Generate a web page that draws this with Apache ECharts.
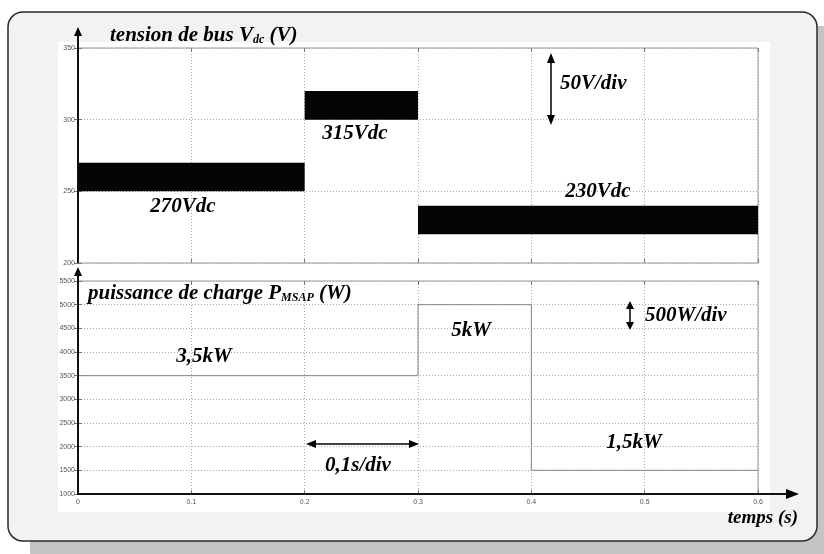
<!DOCTYPE html>
<html><head><meta charset="utf-8">
<script src="https://cdn.jsdelivr.net/npm/echarts@6/dist/echarts.min.js"></script>
<style>html,body{margin:0;padding:0;background:#fff}#c{width:824px;height:554px}</style>
</head><body><div id="c"></div>
<script>
// ---- data ----
const timeTicks = [0, 0.1, 0.2, 0.3, 0.4, 0.5, 0.6];
const vdcTicks = [200, 250, 300, 350];
const powerTicks = [1000, 1500, 2000, 2500, 3000, 3500, 4000, 4500, 5000, 5500];
// Vdc ripple band segments (start time, end time, min, max)
const vdcSegStart = [0, 0.2, 0.3];
const vdcSegEnd = [0.2, 0.3, 0.6];
const vdcMin = [250, 300, 220];
const vdcMax = [270, 320, 240];
// Load power (step)
const powerTime = [0, 0.3, 0.4, 0.6];
const powerValue = [3500, 5000, 1500, 1500];

const chart = echarts.init(document.getElementById('c'), null, {renderer: 'canvas'});
const serif = '"Liberation Serif", "DejaVu Serif", serif';
const sans = '"Liberation Sans", Arial, sans-serif';
const W = 'bold';
const G1 = {left: 78, top: 48, width: 680, height: 215};
const G2 = {left: 78, top: 281, width: 680, height: 213};

function xAx(grid, pos, labels) {
  return {
    type: 'value', gridIndex: grid, position: pos, min: timeTicks[0], max: timeTicks[timeTicks.length - 1], interval: 0.1,
    axisLine: {show: false},
    axisTick: {show: true, inside: true, length: 4, lineStyle: {color: '#777', width: 1}},
    axisLabel: {show: labels, fontSize: 7, color: '#555', fontFamily: sans, margin: 5,
      formatter: v => String(Math.round(v * 10) / 10)},
    splitLine: {show: pos === 'bottom', lineStyle: {type: [1, 2], color: '#aaa', width: 1}}
  };
}
function yAx(grid, pos, ticks, labels) {
  return {
    type: 'value', gridIndex: grid, position: pos, min: ticks[0], max: ticks[ticks.length - 1], interval: ticks[1] - ticks[0],
    axisLine: {show: false},
    axisTick: {show: true, inside: true, length: 4, lineStyle: {color: '#777', width: 1}},
    axisLabel: {show: labels, fontSize: 7, color: '#555', fontFamily: sans, margin: 3, formatter: v => String(v)},
    splitLine: {show: pos === 'left', lineStyle: {type: [1, 2], color: '#aaa', width: 1}}
  };
}

function dblArrowV(x, y1, y2, hw, hl) {
  return [
    {type: 'line', shape: {x1: x, y1: y1 + hl - 1, x2: x, y2: y2 - hl + 1}, style: {stroke: '#000', lineWidth: 1.5}, z: 100},
    {type: 'polygon', shape: {points: [[x, y1], [x - hw, y1 + hl], [x + hw, y1 + hl]]}, style: {fill: '#000'}, z: 100},
    {type: 'polygon', shape: {points: [[x, y2], [x - hw, y2 - hl], [x + hw, y2 - hl]]}, style: {fill: '#000'}, z: 100}
  ];
}
function dblArrowH(y, x1, x2, hw, hl) {
  return [
    {type: 'line', shape: {x1: x1 + hl - 1, y1: y, x2: x2 - hl + 1, y2: y}, style: {stroke: '#000', lineWidth: 1.5}, z: 100},
    {type: 'polygon', shape: {points: [[x1, y], [x1 + hl, y - hw], [x1 + hl, y + hw]]}, style: {fill: '#000'}, z: 100},
    {type: 'polygon', shape: {points: [[x2, y], [x2 - hl, y - hw], [x2 - hl, y + hw]]}, style: {fill: '#000'}, z: 100}
  ];
}
function txt(x, y, text, align, size) {
  return {type: 'text', x: x, y: y, z: 100,
    style: {text: text, fill: '#000', font: 'italic ' + W + ' ' + (size || 21) + 'px ' + serif, textAlign: align || 'center', textVerticalAlign: 'middle'}};
}
function richTitle(x, y, main, sub, tail) {
  return {type: 'text', x: x, y: y, z: 100,
    style: {
      text: '{a|' + main + '}{s|' + sub + '}{a|' + tail + '}',
      textAlign: 'left', textVerticalAlign: 'middle',
      rich: {
        a: {fontFamily: serif, fontStyle: 'italic', fontWeight: W, fontSize: 21, lineHeight: 26, color: '#000', verticalAlign: 'bottom'},
        s: {fontFamily: serif, fontStyle: 'italic', fontWeight: W, fontSize: 12, lineHeight: 16, color: '#000', verticalAlign: 'bottom'}
      }
    }};
}

const graphics = [
  // shadow, frame and white figure area
  {type: 'rect', shape: {x: 30, y: 26, width: 810, height: 540, r: 15}, style: {fill: '#c3c3c3'}, z: -100},
  {type: 'rect', shape: {x: 8, y: 12, width: 809, height: 529, r: 15}, style: {fill: '#f2f2f2', stroke: '#2a2a2a', lineWidth: 1.5}, z: -99},
  {type: 'rect', shape: {x: 58, y: 42, width: 712, height: 470}, style: {fill: '#fff'}, z: -98},
  // black axis arrows
  {type: 'line', shape: {x1: 78, y1: 263, x2: 78, y2: 34}, style: {stroke: '#111', lineWidth: 2}, z: 100},
  {type: 'polygon', shape: {points: [[78, 27], [74, 36], [82, 36]]}, style: {fill: '#000'}, z: 100},
  {type: 'line', shape: {x1: 78, y1: 495, x2: 78, y2: 274}, style: {stroke: '#111', lineWidth: 2}, z: 100},
  {type: 'polygon', shape: {points: [[78, 267], [74, 276], [82, 276]]}, style: {fill: '#000'}, z: 100},
  {type: 'line', shape: {x1: 77, y1: 494, x2: 790, y2: 494}, style: {stroke: '#111', lineWidth: 2}, z: 100},
  {type: 'polygon', shape: {points: [[799, 494], [786, 489], [786, 499]]}, style: {fill: '#000'}, z: 100},
  // titles
  richTitle(110, 33, 'tension de bus V', 'dc', ' (V)'),
  richTitle(88, 291, 'puissance de charge P', 'MSAP', ' (W)'),
  // annotations
  txt(355, 134, '315Vdc'),
  txt(183, 207, '270Vdc'),
  txt(598, 192, '230Vdc'),
  txt(560, 84, '50V/div', 'left'),
  txt(204, 357, '3,5kW'),
  txt(471, 331, '5kW'),
  txt(645, 316, '500W/div', 'left'),
  txt(634, 443, '1,5kW'),
  txt(325, 466, '0,1s/div', 'left'),
  txt(798, 518, 'temps (s)', 'right', 19)
].concat(dblArrowV(551, 53, 125, 4, 10))
 .concat(dblArrowV(630, 301, 330, 4, 8))
 .concat(dblArrowH(444, 306, 419, 4, 10));

const bandData = vdcSegStart.map((t, i) => [t, vdcSegEnd[i], vdcMin[i], vdcMax[i]]);

chart.setOption({
  animation: false,
  backgroundColor: 'transparent',
  grid: [
    Object.assign({show: true, backgroundColor: '#fff', borderColor: '#999', borderWidth: 1}, G1),
    Object.assign({show: true, backgroundColor: '#fff', borderColor: '#999', borderWidth: 1}, G2)
  ],
  xAxis: [xAx(0, 'bottom', false), xAx(0, 'top', false), xAx(1, 'bottom', true), xAx(1, 'top', false)],
  yAxis: [yAx(0, 'left', vdcTicks, true), yAx(0, 'right', vdcTicks, false), yAx(1, 'left', powerTicks, true), yAx(1, 'right', powerTicks, false)],
  graphic: graphics,
  series: [
    {
      type: 'custom', xAxisIndex: 0, yAxisIndex: 0, data: bandData,
      encode: {x: [0, 1], y: [2, 3]},
      renderItem: function (params, api) {
        const p0 = api.coord([api.value(0), api.value(3)]);
        const p1 = api.coord([api.value(1), api.value(2)]);
        return {type: 'rect', shape: {x: p0[0], y: p0[1], width: p1[0] - p0[0], height: p1[1] - p0[1]},
          style: {fill: '#050505'}};
      }
    },
    {
      type: 'line', xAxisIndex: 2, yAxisIndex: 2, step: 'end', symbol: 'none',
      data: powerTime.map((t, i) => [t, powerValue[i]]),
      lineStyle: {color: '#858585', width: 1}
    }
  ]
});
</script></body></html>
